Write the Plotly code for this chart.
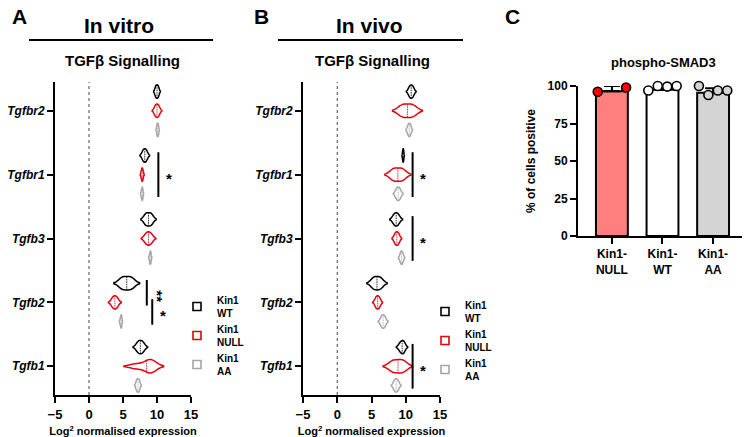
import plotly.graph_objects as go

W, H = 750, 437

genes = ["Tgfbr2", "Tgfbr1", "Tgfb3", "Tgfb2", "Tgfb1"]
groups = ["WT", "NULL", "AA"]
colors = {"WT": "#000000", "NULL": "#e3000f", "AA": "#a6a6a6"}

# log2 normalised expression, replicates per gene (genes top -> bottom)
vitro_wt = [[9.8, 9.9, 10.1, 10.2], [7.9, 8.1, 8.3, 8.5], [8.3, 8.5, 9.0, 9.2],
            [4.8, 5.1, 6.0, 6.3], [7.1, 7.4, 7.7, 8.0]]
vitro_null = [[9.7, 9.9, 10.1, 10.3], [7.7, 7.8, 7.85, 7.95], [8.3, 8.6, 8.9, 9.2],
              [3.4, 3.7, 3.9, 4.2], [6.8, 8.7, 9.0, 9.3]]
vitro_aa = [[10.0, 10.05, 10.15, 10.2], [7.7, 7.8, 7.85, 7.9], [8.9, 9.0, 9.05, 9.1],
            [4.6, 4.7, 4.75, 4.8], [7.0, 7.1, 7.3, 7.4]]

vivo_wt = [[10.5, 10.7, 10.9, 11.1], [9.55, 9.6, 9.65, 9.7], [8.2, 8.5, 8.7, 9.0],
           [5.2, 5.5, 6.1, 6.4], [9.1, 9.4, 9.6, 9.8]]
vivo_null = [[9.4, 9.7, 10.8, 11.1], [8.1, 8.4, 9.3, 9.6], [8.4, 8.6, 8.8, 9.0],
             [5.6, 5.8, 6.0, 6.2], [8.0, 8.4, 9.4, 9.7]]
vivo_aa = [[10.3, 10.45, 10.6, 10.7], [8.6, 8.8, 9.0, 9.2], [9.2, 9.35, 9.45, 9.6],
           [6.4, 6.6, 6.8, 7.0], [8.3, 8.5, 8.7, 8.9]]

# significance: gene, from group, to group, bar x position, label
vitro_sig = [("Tgfbr1", "WT", "AA", 10.2, "*"),
             ("Tgfb2", "WT", "NULL", 8.5, "**"),
             ("Tgfb2", "NULL", "AA", 9.3, "*")]
vivo_sig = [("Tgfbr1", "WT", "AA", 11.0, "*"),
            ("Tgfb3", "WT", "AA", 11.0, "*"),
            ("Tgfb1", "WT", "AA", 11.0, "*")]

# panel C: phospho-SMAD3
smad_labels = ["Kin1-<br>NULL", "Kin1-<br>WT", "Kin1-<br>AA"]
smad_mean = [96.5, 97.5, 95.5]
smad_sd = [3.5, 2.0, 3.0]
smad_points = [[96.2, 100.5, 99.0], [97.0, 100.0, 99.6, 100.0], [100.0, 94.0, 97.0, 97.0]]
smad_fill = ["#ff7f7f", "#ffffff", "#d4d4d4"]
smad_marker = ["#ff0000", "#ffffff", "#d4d4d4"]

FONT = "Liberation Sans, Arial, sans-serif"
PAGE = 8  # body margin of the html page


def px(x):
    return (x - PAGE) / W


def py(y):
    return 1 - (y - PAGE) / H


gene_pos = {g: len(genes) - 1 - i for i, g in enumerate(genes)}
group_off = {"WT": 0.3, "NULL": 0.0, "AA": -0.3}

fig = go.Figure()

panels = [
    ("x", "y", {"WT": vitro_wt, "NULL": vitro_null, "AA": vitro_aa}, vitro_sig, "legend"),
    ("x2", "y2", {"WT": vivo_wt, "NULL": vivo_null, "AA": vivo_aa}, vivo_sig, "legend2"),
]

annotations = []
shapes = []

for xa, ya, data, sig, leg in panels:
    for grp in groups:
        for gi, gene in enumerate(genes):
            vals = data[grp][gi]
            fig.add_trace(go.Violin(
                x=vals, y0=gene_pos[gene] + group_off[grp], orientation="h",
                xaxis=xa, yaxis=ya, width=0.21, scalegroup=f"{xa}{grp}{gene}",
                line=dict(color=colors[grp], width=1.5), fillcolor="white",
                points=False, meanline=dict(visible=True, color=colors[grp], width=0.8),
                showlegend=False, hoverinfo="x"))
        fig.add_trace(go.Scatter(
            x=[None], y=[None], mode="markers", xaxis=xa, yaxis=ya, legend=leg,
            name=f"Kin1<br>{grp}",
            marker=dict(symbol="square-open", size=8, color=colors[grp],
                        line=dict(width=1.6, color=colors[grp]))))
    # zero reference line
    shapes.append(dict(type="line", xref=xa, yref=f"{ya} domain", x0=0, x1=0, y0=0, y1=1,
                       line=dict(color="#444", width=1, dash="dot")))
    for gene, g1, g2, xs, lab in sig:
        y1 = gene_pos[gene] + group_off[g1] + 0.05
        y2 = gene_pos[gene] + group_off[g2] - 0.05
        shapes.append(dict(type="line", xref=xa, yref=ya, x0=xs, x1=xs, y0=y1, y1=y2,
                           line=dict(color="black", width=2)))
        annotations.append(dict(x=xs + 1.55, y=(y1 + y2) / 2 - 0.06, xref=xa, yref=ya,
                                text=lab, showarrow=False, textangle=90 if len(lab) > 1 else 0,
                                font=dict(family=FONT, size=15, color="black", weight="bold")))

# panel C bars and points
fig.add_trace(go.Bar(
    x=[0, 1, 2], y=smad_mean, xaxis="x3", yaxis="y3", width=0.63, showlegend=False,
    marker=dict(color=smad_fill, line=dict(color="black", width=2)),
    error_y=dict(type="data", array=smad_sd, arrayminus=[0, 0, 0], symmetric=False,
                 color="black", thickness=2, width=8)))
for i, pts in enumerate(smad_points):
    n = len(pts)
    step = 0.56 / (n - 1)
    xs = [i + (k - (n - 1) / 2) * step for k in range(n)]
    fig.add_trace(go.Scatter(
        x=xs, y=pts, mode="markers", xaxis="x3", yaxis="y3", showlegend=False,
        cliponaxis=False,
        marker=dict(size=9, color=smad_marker[i], line=dict(color="black", width=1.6))))

axis_line = dict(showline=True, linecolor="black", linewidth=2, ticks="outside",
                 ticklen=6, tickwidth=2, tickcolor="black", showgrid=False, zeroline=False,
                 automargin=False)
tick_font = dict(family=FONT, size=13, color="black", weight="bold")
gene_ticks = [f"<b><i>{g}</i></b>" for g in genes]

xa_common = dict(range=[-5, 15], tickvals=[-5, 0, 5, 10, 15], tickfont=tick_font,
                 title=dict(text="Log<sup>2</sup> normalised expression", standoff=7,
                            font=dict(family=FONT, size=11, color="black", weight="bold")),
                 **axis_line)
ya_common = dict(range=[-0.45, 4.45], tickvals=[gene_pos[g] for g in genes], ticktext=gene_ticks,
                 tickfont=dict(family=FONT, size=12, color="black"), **axis_line)

vert = [py(395), py(82)]
legend_font = dict(family=FONT, size=10, color="black", weight="bold")

fig.update_layout(
    width=W, height=H, margin=dict(l=0, r=0, t=0, b=0),
    paper_bgcolor="white", plot_bgcolor="white",
    font=dict(family=FONT, color="black"),
    xaxis=dict(domain=[px(55), px(191)], anchor="y", **xa_common),
    yaxis=dict(domain=vert, anchor="x", **ya_common),
    xaxis2=dict(domain=[px(303), px(440)], anchor="y2", **xa_common),
    yaxis2=dict(domain=vert, anchor="x2", **ya_common),
    xaxis3=dict(domain=[px(578), px(748)], anchor="y3", range=[-0.67, 2.69],
                tickvals=[0, 1, 2], ticktext=smad_labels,
                tickfont=dict(family=FONT, size=12, color="black", weight="bold"), **axis_line),
    yaxis3=dict(domain=[py(236), py(86)], anchor="x3", range=[0, 100],
                tickvals=[0, 25, 50, 75, 100],
                tickfont=dict(family=FONT, size=12, color="black", weight="bold"),
                title=dict(text="% of cells positive", standoff=9,
                           font=dict(family=FONT, size=12, color="black", weight="bold")),
                **axis_line),
    legend=dict(x=px(177), y=py(287), xanchor="left", yanchor="top", font=legend_font,
                bgcolor="rgba(0,0,0,0)", tracegroupgap=0),
    legend2=dict(x=px(425), y=py(292), xanchor="left", yanchor="top", font=legend_font,
                 bgcolor="rgba(0,0,0,0)", tracegroupgap=0),
    bargap=0.3,
)

# headers
for lx, letter in [(10, "A"), (252, "B"), (503, "C")]:
    annotations.append(dict(x=px(lx), y=py(16), xref="paper", yref="paper", text=letter,
                            xanchor="left", yanchor="middle", showarrow=False,
                            font=dict(family=FONT, size=21, color="black", weight="bold")))
for cx, title, x0, x1 in [(119, "In vitro", 29, 213), (369, "In vivo", 278, 463)]:
    annotations.append(dict(x=px(cx), y=py(26), xref="paper", yref="paper", text=title,
                            showarrow=False, xanchor="center", yanchor="middle",
                            font=dict(family=FONT, size=21, color="black", weight="bold")))
    annotations.append(dict(x=px(cx + 3), y=py(60), xref="paper", yref="paper",
                            text="TGFβ Signalling", showarrow=False, xanchor="center",
                            yanchor="middle",
                            font=dict(family=FONT, size=15, color="black", weight="bold")))
    shapes.append(dict(type="line", xref="paper", yref="paper", x0=px(x0), x1=px(x1),
                       y0=py(40), y1=py(40), line=dict(color="black", width=2)))
annotations.append(dict(x=px(663), y=py(62), xref="paper", yref="paper", text="phospho-SMAD3",
                        showarrow=False, xanchor="center", yanchor="middle",
                        font=dict(family=FONT, size=13, color="black", weight="bold")))

fig.update_layout(annotations=annotations, shapes=shapes)

fig.write_html("out.html")
